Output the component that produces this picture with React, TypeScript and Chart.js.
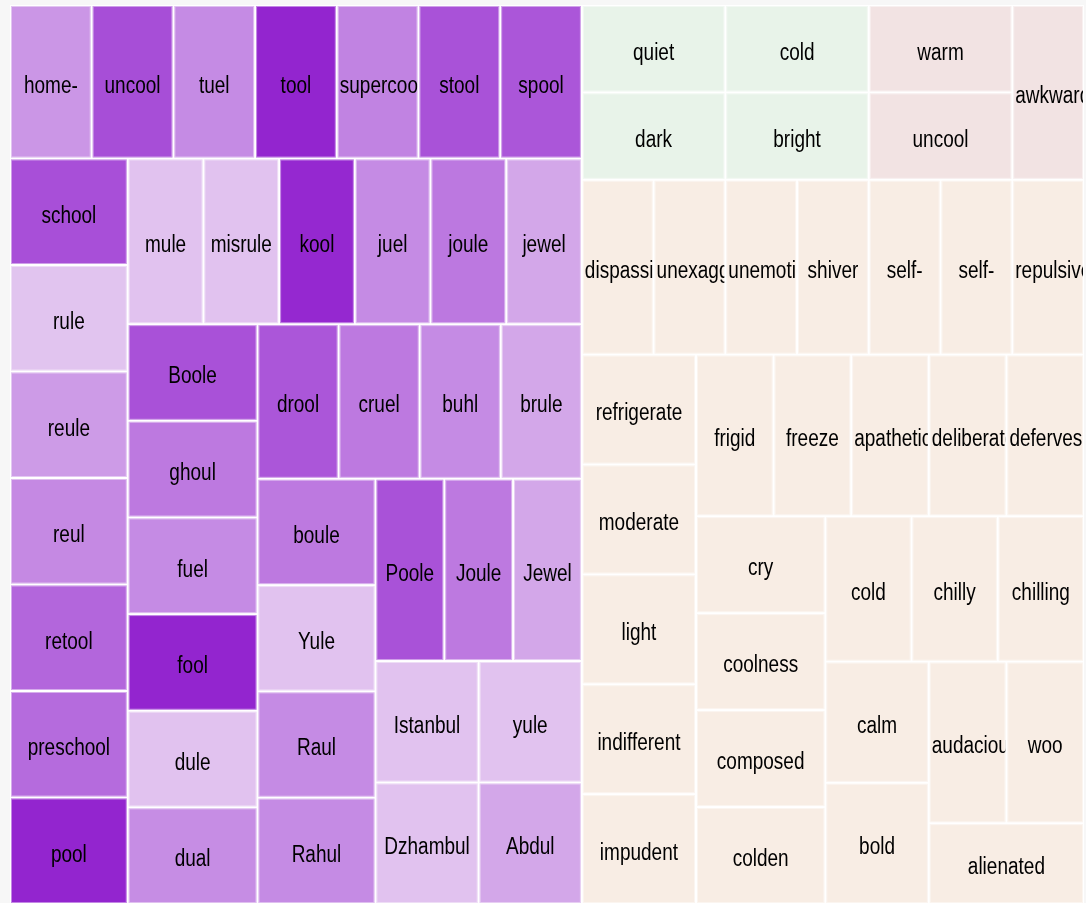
import React, { useEffect, useRef } from 'react';
import { Chart, registerables } from 'chart.js';

Chart.register(...registerables);

// ---------------- data ----------------
const groupNames = ['Rhymes', 'Opposites', 'Antonyms', 'Related'];
const groupColors = ['#9325cf', '#e8f3e9', '#f2e3e3', '#f8ede4'];
const rhymeLight = '#e3c7f0';

const rhymeWords = [
  'home-', 'uncool', 'tuel', 'tool', 'supercool', 'stool', 'spool',
  'school', 'rule', 'reule', 'reul', 'retool', 'preschool', 'pool',
  'mule', 'misrule', 'kool', 'juel', 'joule', 'jewel',
  'Boole', 'ghoul', 'fuel', 'fool', 'dule', 'dual',
  'drool', 'cruel', 'buhl', 'brule',
  'boule', 'Yule', 'Raul', 'Rahul',
  'Poole', 'Joule', 'Jewel',
  'Istanbul', 'Dzhambul', 'yule', 'Abdul',
];
const rhymeValues = [
  1, 1, 1, 1, 1, 1, 1,
  1, 1, 1, 1, 1, 1, 1,
  1, 1, 1, 1, 1, 1,
  1, 1, 1, 1, 1, 1,
  1, 1, 1, 1,
  1, 1, 1, 1,
  1, 1, 1,
  1, 1, 1, 1,
];
const rhymeScores = [
  30, 75, 37, 100, 42, 72, 70,
  74, 2, 27, 38, 60, 57, 100,
  3, 3, 98, 37, 49, 20,
  73, 48, 37, 100, 3, 36,
  70, 48, 37, 20,
  48, 3, 37, 37,
  72, 48, 20,
  3, 3, 3, 20,
];

const oppositeWords = ['quiet', 'dark', 'cold', 'bright'];
const oppositeValues = [1, 1, 1, 1];

const antonymWords = ['warm', 'uncool', 'awkward'];
const antonymValues = [1, 1, 1];

const relatedWords = [
  'dispassionate', 'unexaggerated', 'unemotional', 'shiver', 'self-', 'self-', 'repulsive',
  'refrigerate', 'moderate', 'light', 'indifferent', 'impudent',
  'frigid', 'freeze', 'apathetic', 'deliberate', 'defervescence',
  'cry', 'coolness', 'composed', 'colden',
  'cold', 'chilly', 'chilling',
  'calm', 'bold',
  'audacious', 'woo', 'alienated',
];
const relatedValues = [
  1, 1, 1, 1, 1, 1, 1,
  1, 1, 1, 1, 1,
  1, 1, 1, 1, 1,
  1, 1, 1, 1,
  1, 1, 1,
  1, 1,
  1, 1, 1,
];

// layout space of the treemap (stretched onto the chart area by the scales)
const LAYOUT_W = 1000;
const LAYOUT_H = 634;

// ---------------- treemap layout (d3 squarify, golden ratio) ----------------
const PHI = (1 + Math.sqrt(5)) / 2;

interface TNode {
  value: number;
  children?: TNode[];
  x0: number;
  y0: number;
  x1: number;
  y1: number;
  label?: string;
  color?: string;
}

function dice(nodes: TNode[], x0: number, y0: number, x1: number, y1: number, value: number) {
  const k = value ? (x1 - x0) / value : 0;
  for (const n of nodes) {
    n.y0 = y0;
    n.y1 = y1;
    n.x0 = x0;
    x0 += n.value * k;
    n.x1 = x0;
  }
}

function slice(nodes: TNode[], x0: number, y0: number, x1: number, y1: number, value: number) {
  const k = value ? (y1 - y0) / value : 0;
  for (const n of nodes) {
    n.x0 = x0;
    n.x1 = x1;
    n.y0 = y0;
    y0 += n.value * k;
    n.y1 = y0;
  }
}

function squarify(parent: TNode, x0: number, y0: number, x1: number, y1: number) {
  const nodes = parent.children || [];
  const n = nodes.length;
  let i0 = 0;
  let i1 = 0;
  let value = parent.value;
  while (i0 < n) {
    const dx = x1 - x0;
    const dy = y1 - y0;
    let sumValue = 0;
    do {
      sumValue = nodes[i1++].value;
    } while (!sumValue && i1 < n);
    let minValue = sumValue;
    let maxValue = sumValue;
    const alpha = Math.max(dy / dx, dx / dy) / (value * PHI);
    let beta = sumValue * sumValue * alpha;
    let minRatio = Math.max(maxValue / beta, beta / minValue);
    for (; i1 < n; ++i1) {
      const nodeValue = nodes[i1].value;
      sumValue += nodeValue;
      if (nodeValue < minValue) minValue = nodeValue;
      if (nodeValue > maxValue) maxValue = nodeValue;
      beta = sumValue * sumValue * alpha;
      const newRatio = Math.max(maxValue / beta, beta / minValue);
      if (newRatio > minRatio) {
        sumValue -= nodeValue;
        break;
      }
      minRatio = newRatio;
    }
    const row = nodes.slice(i0, i1);
    if (dx < dy) {
      const ny = dy ? y0 + (dy * sumValue) / value : y1;
      dice(row, x0, y0, x1, ny, sumValue);
      y0 = ny;
    } else {
      const nx = dx ? x0 + (dx * sumValue) / value : x1;
      slice(row, x0, y0, nx, y1, sumValue);
      x0 = nx;
    }
    value -= sumValue;
    i0 = i1;
  }
}

function hexToRgb(h: string) {
  const v = parseInt(h.slice(1), 16);
  return [(v >> 16) & 255, (v >> 8) & 255, v & 255];
}
function mix(a: string, b: string, t: number) {
  const A = hexToRgb(a);
  const B = hexToRgb(b);
  const c = A.map((v, i) => Math.round(v + (B[i] - v) * t));
  return `rgb(${c[0]},${c[1]},${c[2]})`;
}

function buildCells() {
  const leaf = (label: string, value: number, color: string): TNode => ({
    label, value, color, x0: 0, y0: 0, x1: 0, y1: 0,
  });
  const groupLeaves: TNode[][] = [
    rhymeWords.map((w, i) => leaf(w, rhymeValues[i], mix(rhymeLight, groupColors[0], rhymeScores[i] / 100))),
    oppositeWords.map((w, i) => leaf(w, oppositeValues[i], groupColors[1])),
    antonymWords.map((w, i) => leaf(w, antonymValues[i], groupColors[2])),
    relatedWords.map((w, i) => leaf(w, relatedValues[i], groupColors[3])),
  ];
  const groups: TNode[] = groupLeaves.map((children, gi) => ({
    label: groupNames[gi],
    children,
    value: children.reduce((s, c) => s + c.value, 0),
    x0: 0, y0: 0, x1: 0, y1: 0,
  }));
  const root: TNode = {
    children: groups,
    value: groups.reduce((s, g) => s + g.value, 0),
    x0: 0, y0: 0, x1: LAYOUT_W, y1: LAYOUT_H,
  };
  squarify(root, 0, 0, LAYOUT_W, LAYOUT_H);
  for (const g of groups) squarify(g, g.x0, g.y0, g.x1, g.y1);
  const cells: TNode[] = [];
  for (const g of groups) for (const c of g.children || []) cells.push(c);
  return cells;
}

// ---------------- component ----------------
export default function App() {
  const canvasRef = useRef<HTMLCanvasElement | null>(null);

  useEffect(() => {
    const canvas = canvasRef.current;
    if (!canvas) return;
    const cells = buildCells();

    const treemapPlugin = {
      id: 'treemapCells',
      beforeDraw(chart: any) {
        const { ctx, width, height } = chart;
        ctx.save();
        ctx.fillStyle = '#ffffff';
        ctx.fillRect(0, 0, width, height);
        ctx.restore();
      },
      afterDatasetsDraw(chart: any) {
        const { ctx } = chart;
        const xs = chart.scales.x;
        const ys = chart.scales.y;
        for (const c of cells) {
          const px0 = xs.getPixelForValue(c.x0);
          const px1 = xs.getPixelForValue(c.x1);
          const py0 = ys.getPixelForValue(c.y0);
          const py1 = ys.getPixelForValue(c.y1);
          const rx = px0 + 1;
          const ry = py0 + 1;
          const rw = px1 - px0 - 2;
          const rh = py1 - py0 - 2;
          ctx.save();
          ctx.fillStyle = c.color;
          ctx.fillRect(rx, ry, rw, rh);
          ctx.strokeStyle = 'rgba(255,255,255,0.45)';
          ctx.lineWidth = 1;
          ctx.strokeRect(rx + 0.5, ry + 0.5, rw - 1, rh - 1);
          ctx.beginPath();
          ctx.rect(rx, ry, rw, rh);
          ctx.clip();
          ctx.font = '19px "Liberation Sans", Arial, Helvetica, sans-serif';
          ctx.fillStyle = '#000000';
          ctx.textBaseline = 'middle';
          ctx.textAlign = 'left';
          const label = c.label || '';
          const tw = ctx.measureText(label).width;
          let tx = (px0 + px1) / 2 - tw / 2;
          if (tw > rw - 4) tx = rx + 2;
          ctx.translate(tx, (py0 + py1) / 2 + 4);
          ctx.scale(1, 1.3);
          ctx.fillText(label, 0, 0);
          ctx.restore();
        }
      },
    };

    const chart = new Chart(canvas, {
      type: 'scatter',
      data: {
        datasets: [
          {
            label: 'cells',
            data: cells.map((c) => ({ x: (c.x0 + c.x1) / 2, y: (c.y0 + c.y1) / 2 })),
            pointRadius: 0,
            pointHoverRadius: 0,
          },
        ],
      },
      options: {
        animation: false,
        responsive: false,
        events: [],
        layout: { padding: 0 },
        scales: {
          x: { type: 'linear', min: 0, max: LAYOUT_W, display: false },
          y: { type: 'linear', min: 0, max: LAYOUT_H, reverse: true, display: false },
        },
        plugins: {
          legend: { display: false },
          tooltip: { enabled: false },
        },
      },
      plugins: [treemapPlugin],
    } as any);

    return () => {
      chart.destroy();
    };
  }, []);

  return (
    <div style={{ position: 'fixed', left: 0, top: 0, right: 0, bottom: 0, background: '#f7f7f7' }}>
      <canvas
        ref={canvasRef}
        width={1074}
        height={899}
        style={{ position: 'absolute', left: 10, top: 5, width: 1074, height: 899 }}
      />
    </div>
  );
}
